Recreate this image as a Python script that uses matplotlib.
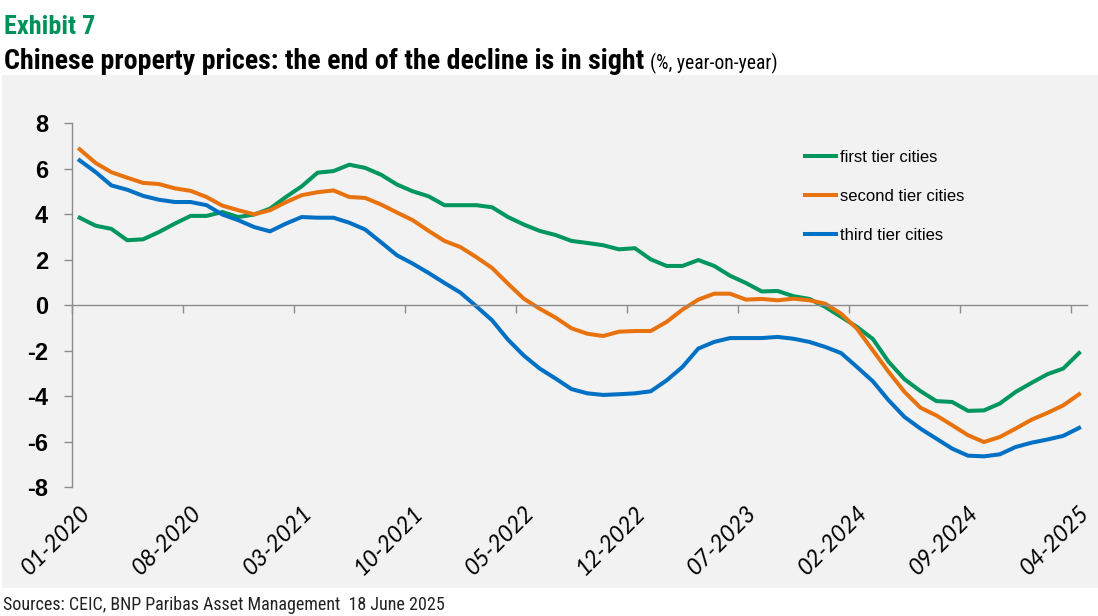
import numpy as np
import pandas as pd
import matplotlib
matplotlib.use('Agg')
import matplotlib.pyplot as plt
from matplotlib import font_manager as fm
from matplotlib.patches import Rectangle

plt.rcParams['axes.unicode_minus'] = False

# monthly data, 01-2020 .. 04-2025 (% y/y)
months = pd.date_range('2020-01-01', '2025-04-01', freq='MS')

first_tier = [3.85, 3.50, 3.36, 2.86, 2.90, 3.22, 3.59, 3.93, 3.93, 4.10,
              3.88, 3.99, 4.25, 4.76, 5.23, 5.83, 5.90, 6.18, 6.04, 5.74,
              5.31, 5.01, 4.79, 4.40, 4.40, 4.40, 4.31, 3.88, 3.55, 3.27,
              3.09, 2.83, 2.74, 2.64, 2.46, 2.51, 2.02, 1.73, 1.73, 1.99,
              1.73, 1.30, 0.98, 0.61, 0.63, 0.40, 0.28, -0.07, -0.51, -0.95,
              -1.48, -2.49, -3.25, -3.77, -4.21, -4.25, -4.64, -4.62, -4.32, -3.81,
              -3.41, -3.03, -2.78, -2.10]

second_tier = [6.86, 6.26, 5.85, 5.61, 5.38, 5.33, 5.14, 5.03, 4.76, 4.38,
               4.18, 4.00, 4.18, 4.53, 4.84, 4.97, 5.05, 4.76, 4.72, 4.43,
               4.08, 3.74, 3.27, 2.83, 2.56, 2.12, 1.64, 0.95, 0.29, -0.15,
               -0.54, -1.01, -1.25, -1.35, -1.16, -1.13, -1.13, -0.73, -0.19, 0.25,
               0.51, 0.51, 0.25, 0.28, 0.22, 0.29, 0.22, 0.07, -0.37, -1.03,
               -1.98, -2.93, -3.81, -4.50, -4.84, -5.27, -5.71, -6.01, -5.79, -5.42,
               -5.03, -4.73, -4.40, -3.91]

third_tier = [6.37, 5.86, 5.27, 5.08, 4.81, 4.64, 4.54, 4.54, 4.40, 3.99,
              3.74, 3.44, 3.25, 3.59, 3.88, 3.85, 3.85, 3.63, 3.33, 2.77,
              2.20, 1.83, 1.42, 0.98, 0.56, -0.04, -0.66, -1.51, -2.21, -2.78,
              -3.22, -3.68, -3.87, -3.94, -3.91, -3.87, -3.78, -3.30, -2.71, -1.90,
              -1.61, -1.44, -1.44, -1.44, -1.39, -1.47, -1.61, -1.83, -2.10, -2.71,
              -3.34, -4.18, -4.91, -5.42, -5.86, -6.30, -6.61, -6.64, -6.55, -6.23,
              -6.04, -5.90, -5.74, -5.39]

series_names = ['first tier cities', 'second tier cities', 'third tier cities']
series_colors = ['#00965E', '#E8730E', '#0070C4']

y_ticks = [8, 6, 4, 2, 0, -2, -4, -6, -8]
label_step = 7
tick_labels = [m.strftime('%m-%Y') for m in months[::label_step]]

W, H = 1098, 616


def narrow_font(weight):
    # look for a condensed face, best first
    prefs = ['Liberation Sans Narrow', 'Roboto Condensed', 'Noto Sans',
             'Open Sans', 'DejaVu Sans']
    want_bold = weight == 'bold'
    for name in prefs:
        for f in fm.fontManager.ttflist:
            narrow = ('condensed' in str(f.stretch) or 'Narrow' in f.name
                      or 'Condensed' in f.name)
            if not narrow or f.style != 'normal':
                continue
            if not (f.name == name or f.name.startswith(name)):
                continue
            w = f.weight if isinstance(f.weight, int) else fm.weight_dict.get(f.weight, 400)
            if want_bold and w >= 700 or (not want_bold and 400 <= w < 500):
                return fm.FontProperties(fname=f.fname)
    return fm.FontProperties(family='Liberation Sans', weight=weight)


def fit_width(txt, target_px):
    fig.canvas.draw()
    w = txt.get_window_extent().width
    txt.set_fontsize(txt.get_fontsize() * target_px / w)


fig = plt.figure(figsize=(W / 100, H / 100), dpi=100)
fig.patch.set_facecolor('white')

# grey panel behind the chart
fig.add_artist(Rectangle((2 / W, (H - 588) / H), (W - 2) / W, (588 - 75) / H,
                         transform=fig.transFigure, facecolor='#F2F2F2',
                         edgecolor='none', zorder=0))

ax = fig.add_axes([71.7 / W, 128.7 / H, (1087 - 71.7) / W, 364 / H])
ax.set_facecolor('none')

x = np.arange(len(months))
for vals, name, col in zip([first_tier, second_tier, third_tier], series_names, series_colors):
    ax.plot(x, vals, color=col, linewidth=2.9, label=name, solid_joinstyle='round')

ax.set_xlim(-0.5, len(months) - 0.5)
ax.set_ylim(-8, 8)

for s in ['top', 'right']:
    ax.spines[s].set_visible(False)
ax.spines['bottom'].set_position(('data', 0))
for s in ['left', 'bottom']:
    ax.spines[s].set_color('#8C8C8C')
    ax.spines[s].set_linewidth(1.0)

# y axis
ax.set_yticks(y_ticks)
ax.set_yticklabels([str(v) for v in y_ticks])
ax.tick_params(axis='y', direction='out', length=6, width=1, color='#8C8C8C',
               pad=11, labelsize=17)
for t in ax.get_yticklabels():
    t.set_fontfamily(['Liberation Sans', 'DejaVu Sans'])
    t.set_fontweight('bold')

# x ticks between categories on the zero line
ax.set_xticks(np.arange(-0.5, len(months), label_step))
ax.tick_params(axis='x', direction='out', length=5.5, width=1, color='#8C8C8C',
               labelbottom=False)

# date labels under the plot
sec = ax.secondary_xaxis('bottom')
sec.set_xticks(x[::label_step])
sec.set_xticklabels(tick_labels)
sec.tick_params(length=0, pad=11)
sec.spines['bottom'].set_visible(False)
for t in sec.get_xticklabels():
    t.set_rotation(45)
    t.set_ha('right')
    t.set_va('top')
    t.set_rotation_mode('anchor')
    t.set_fontfamily(['Lato', 'DejaVu Sans'])
    t.set_fontstyle('italic')
    t.set_fontsize(16.5)

leg = ax.legend(loc='upper left', bbox_to_anchor=(805 / W, 1 - 149.5 / H),
                bbox_transform=fig.transFigure, frameon=False, fontsize=12,
                handlelength=1.85, handletextpad=0.25, labelspacing=1.46,
                borderpad=0, borderaxespad=0)
for t in leg.get_texts():
    t.set_fontfamily(['Liberation Sans', 'DejaVu Sans'])

# titles
bold_narrow = narrow_font('bold')
reg_narrow = narrow_font('normal')

exhibit = fig.text(4 / W, 1 - 34 / H, 'Exhibit 7', color='#00915A',
                   fontproperties=bold_narrow, va='baseline')
exhibit.set_fontsize(19)
fit_width(exhibit, 91)

title = fig.text(4 / W, 1 - 69 / H,
                 'Chinese property prices: the end of the decline is in sight',
                 color='black', fontproperties=bold_narrow, va='baseline')
title.set_fontsize(17.5)
fit_width(title, 641)

fig.canvas.draw()
bb = title.get_window_extent()
sub = fig.text((bb.x1 + 6) / W, 1 - 69 / H, '(%, year-on-year)', color='black',
               fontproperties=reg_narrow, va='baseline')
sub.set_fontsize(12.5)
fit_width(sub, 128)

source = fig.text(3 / W, 1 - 610 / H,
                  'Sources: CEIC, BNP Paribas Asset Management  18 June 2025',
                  color='#222222', fontproperties=reg_narrow, va='baseline')
source.set_fontsize(13.5)
fit_width(source, 442)

fig.savefig('out.png', dpi=100, facecolor='white')
